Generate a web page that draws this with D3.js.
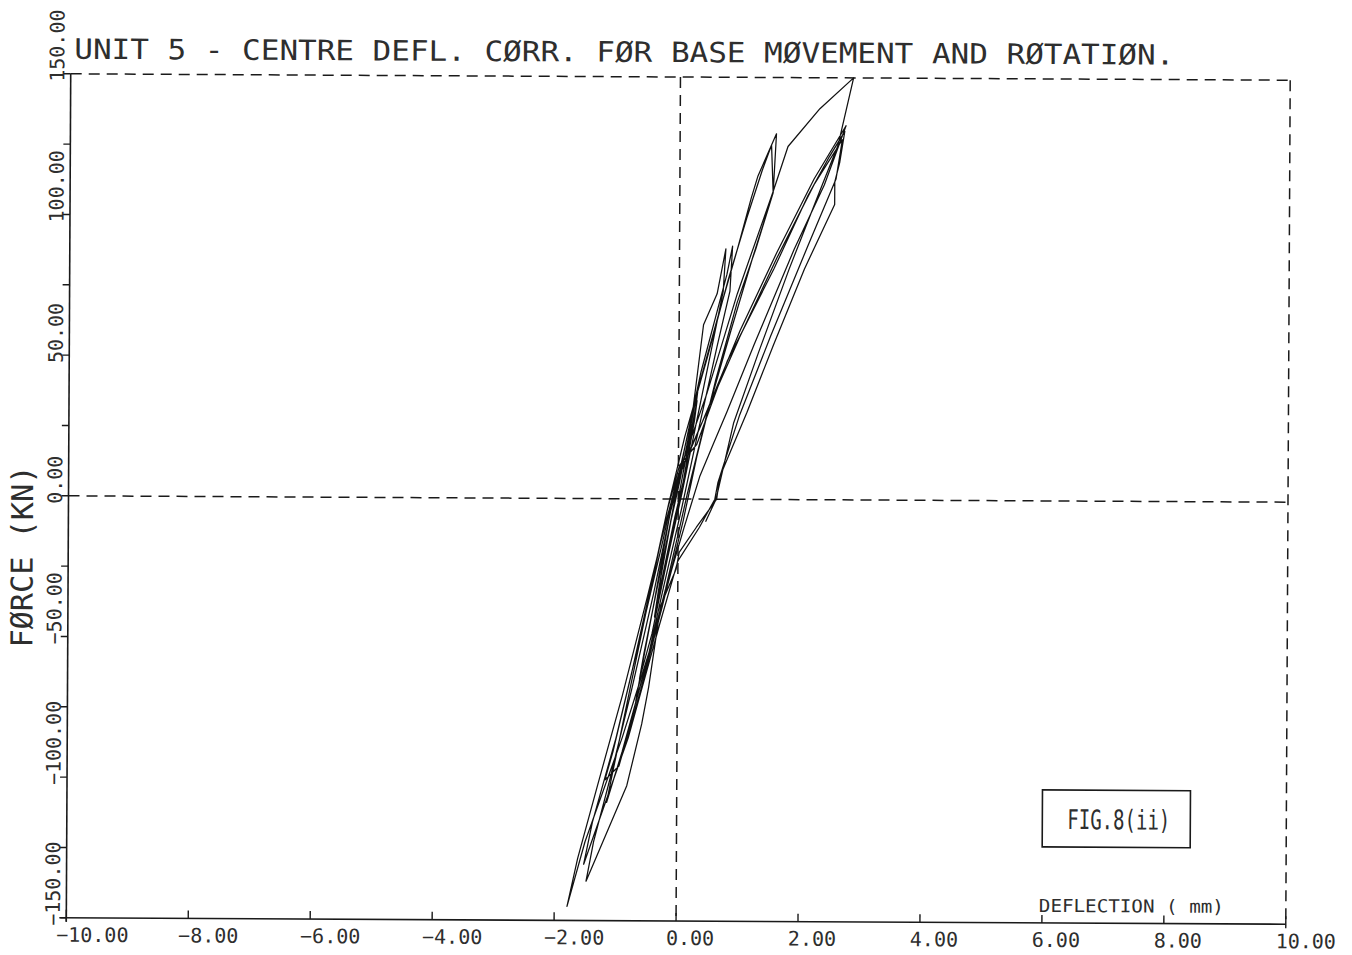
<!DOCTYPE html>
<html>
<head>
<meta charset="utf-8">
<script src="https://cdn.jsdelivr.net/npm/d3@7"></script>
<style>
  body { margin: 0; background: #fff; }
  text { font-family: "DejaVu Sans Mono", "Liberation Mono", monospace; fill: #2e2e2e; }
</style>
</head>
<body>
<svg id="chart" width="1352" height="955"></svg>
<script>
// Axis ticks
const xTicks = [-10, -8, -6, -4, -2, 0, 2, 4, 6, 8, 10];
const yTicks = [-150, -100, -50, 0, 50, 100, 150];
const yMinorTicks = [-150, -125, -100, -75, -50, -25, 0, 25, 50, 75, 100, 125, 150];

// Load–deflection record, [deflection mm, force kN], in load order
const stage1 = [
  [0.00, 0], [0.10, 12], [0.22, 26], [0.30, 35], [0.26, 28], [0.10, 8], [-0.05, -6],
  [-0.20, -22], [-0.33, -36], [-0.28, -28], [-0.12, -8], [0.02, 6], [0.18, 24],
  [0.32, 40], [0.27, 31], [0.08, 6], [-0.08, -10], [-0.25, -28], [-0.38, -42],
  [-0.32, -33], [-0.14, -10], [0.00, 5]
];
const stage2 = [
  [0.19, 24], [0.40, 62], [0.62, 73], [0.76, 89], [0.72, 74], [0.52, 52], [0.28, 26],
  [0.06, 2], [-0.18, -22], [-0.42, -48], [-0.62, -64], [-0.55, -55], [-0.36, -34],
  [-0.14, -10], [0.10, 18], [0.36, 45], [0.60, 65], [0.78, 80], [0.87, 90], [0.83, 74],
  [0.62, 54], [0.32, 24], [0.06, -3], [-0.24, -32], [-0.50, -58], [-0.68, -72],
  [-0.60, -62], [-0.38, -36], [-0.14, -6], [0.02, 10]
];
const stage3 = [
  [0.30, 38], [0.65, 66], [0.95, 89], [1.17, 107], [1.28, 115], [1.58, 130], [1.53, 109],
  [1.25, 89], [0.95, 70], [0.60, 42], [0.30, 15], [0.08, -8], [-0.25, -38], [-0.60, -68],
  [-0.95, -95], [-1.18, -100], [-1.05, -90], [-0.75, -62], [-0.45, -32], [-0.16, -2],
  [0.10, 22], [0.46, 50], [0.80, 78], [1.10, 100], [1.35, 117], [1.50, 126], [1.53, 109],
  [1.20, 86], [0.85, 60], [0.46, 30], [0.15, 2], [-0.20, -32], [-0.55, -62], [-0.90, -90],
  [-1.15, -108], [-1.04, -96], [-0.76, -66], [-0.46, -34], [-0.18, -4], [0.02, 12]
];
const stage4 = [
  [0.30, 19.5], [0.79, 49], [1.55, 82], [2.10, 108], [2.45, 122], [2.70, 131], [2.62, 120],
  [2.54, 113], [2.54, 105], [2.05, 82], [1.55, 55], [1.12, 31], [0.68, 8], [0.63, 0],
  [0.30, -10], [0.02, -19], [-0.03, -25], [-0.28, -38], [-0.47, -67], [-0.58, -80],
  [-0.82, -102], [-1.48, -136], [-1.36, -122], [-1.10, -100], [-0.75, -68], [-0.40, -34],
  [-0.12, -4], [0.05, 10], [0.40, 28], [1.00, 60], [1.60, 88], [2.20, 114], [2.72, 133],
  [2.37, 112], [1.88, 89], [1.23, 55], [0.79, 31], [0.57, 19.6], [0.35, 8], [0.10, -10],
  [-0.10, -25], [-0.40, -50], [-0.90, -85], [-1.50, -122], [-1.79, -145], [-1.62, -128],
  [-1.30, -102], [-0.90, -70], [-0.50, -35], [-0.20, -8], [0.00, 8], [0.40, 28],
  [1.00, 58], [1.60, 86], [2.20, 112], [2.66, 128], [2.56, 114], [2.10, 90], [1.50, 58],
  [1.00, 30], [0.65, 6], [0.60, 0], [0.35, -10], [0.00, -22], [-0.30, -45], [-0.80, -85],
  [-1.20, -110], [-1.52, -130], [-1.38, -115], [-1.00, -85], [-0.60, -48], [-0.25, -15],
  [-0.05, 5], [0.10, 15]
];
const stage5 = [
  [0.46, 37.5], [0.95, 73], [1.53, 109.5], [1.77, 125.5], [2.29, 139], [2.84, 150],
  [2.59, 126], [2.30, 110], [1.80, 82], [1.30, 52], [0.90, 27], [0.62, 0], [0.45, -8]
];
const record = [stage1, stage2, stage3, stage4, stage5];

const svg = d3.select("#chart");
const W = 1352, H = 955;
svg.append("rect").attr("width", W).attr("height", H).attr("fill", "#fff");

const x = d3.scaleLinear().domain([-10, 10]).range([68.5, 1288]);
const y = d3.scaleLinear().domain([-150, 150]).range([921, 77]);

// the plotted sheet sits very slightly skewed
const g = svg.append("g")
  .attr("transform", `rotate(0.3, ${x(0)}, ${y(0)})`);

const ink = "#1a1a1a";
const fmt = d3.format(".2f");

// Frame: solid left and bottom axes, dashed top and right borders, dashed zero lines
g.append("line").attr("x1", x(-10)).attr("x2", x(-10)).attr("y1", y(150)).attr("y2", y(-150) + 4)
  .attr("stroke", ink).attr("stroke-width", 1.6);
g.append("line").attr("x1", x(-10) - 6).attr("x2", x(10)).attr("y1", y(-150)).attr("y2", y(-150))
  .attr("stroke", ink).attr("stroke-width", 1.6);

const dashed = [
  [[-10, 150], [10, 150]],
  [[10, 150], [10, -150]],
  [[-10, 0], [10, 0]],
  [[0, 150], [0, -150]]
];
g.selectAll(".dash").data(dashed).join("line")
  .attr("x1", d => x(d[0][0])).attr("y1", d => y(d[0][1]))
  .attr("x2", d => x(d[1][0])).attr("y2", d => y(d[1][1]))
  .attr("stroke", ink).attr("stroke-width", 1.5)
  .attr("stroke-dasharray", "11,7");

// x ticks and labels
g.selectAll(".xt").data(xTicks).join("line")
  .attr("x1", d => x(d)).attr("x2", d => x(d))
  .attr("y1", y(-150) - 8).attr("y2", d => (d === -10 || d === 10) ? y(-150) + 4 : y(-150))
  .attr("stroke", ink).attr("stroke-width", 1.4);
g.selectAll(".xl").data(xTicks).join("text")
  .attr("x", d => x(d) - 10).attr("y", 945)
  .attr("font-size", 20)
  .text(d => fmt(d));

// y ticks and labels (rotated)
g.selectAll(".yt").data(yMinorTicks).join("line")
  .attr("x1", x(-10) - 7).attr("x2", x(-10))
  .attr("y1", d => y(d)).attr("y2", d => y(d))
  .attr("stroke", ink).attr("stroke-width", 1.4);
g.selectAll(".yl").data(yTicks).join("text")
  .attr("transform", d => `translate(62, ${y(d) + 8}) rotate(-90)`)
  .attr("font-size", 20)
  .text(d => fmt(d));

// Titles
g.append("text").attr("x", 72).attr("y", 62).attr("font-size", 28)
  .attr("textLength", 1100).attr("lengthAdjust", "spacingAndGlyphs")
  .text("UNIT 5 - CENTRE DEFL. CØRR. FØR BASE MØVEMENT AND RØTATIØN.");
g.append("text").attr("transform", "translate(33, 651) rotate(-90)")
  .attr("font-size", 30)
  .attr("textLength", 182).attr("lengthAdjust", "spacingAndGlyphs")
  .text("FØRCE (KN)");
g.append("text").attr("x", 1041).attr("y", 910).attr("font-size", 18)
  .attr("textLength", 185).attr("lengthAdjust", "spacingAndGlyphs")
  .text("DEFLECTION ( mm)");

// Figure tag
g.append("rect").attr("x", 1044).attr("y", 788).attr("width", 148).attr("height", 57)
  .attr("fill", "none").attr("stroke", ink).attr("stroke-width", 1.6);
g.append("text").attr("x", 1069).attr("y", 827).attr("font-size", 27)
  .attr("textLength", 103).attr("lengthAdjust", "spacingAndGlyphs")
  .text("FIG.8(ii)");

// Hysteresis trace
const line = d3.line().x(d => x(d[0])).y(d => y(d[1]));
const path = record.flat();
g.append("path").datum(path)
  .attr("d", line)
  .attr("fill", "none").attr("stroke", "#111").attr("stroke-width", 1.25)
  .attr("stroke-linejoin", "round");
</script>
</body>
</html>
